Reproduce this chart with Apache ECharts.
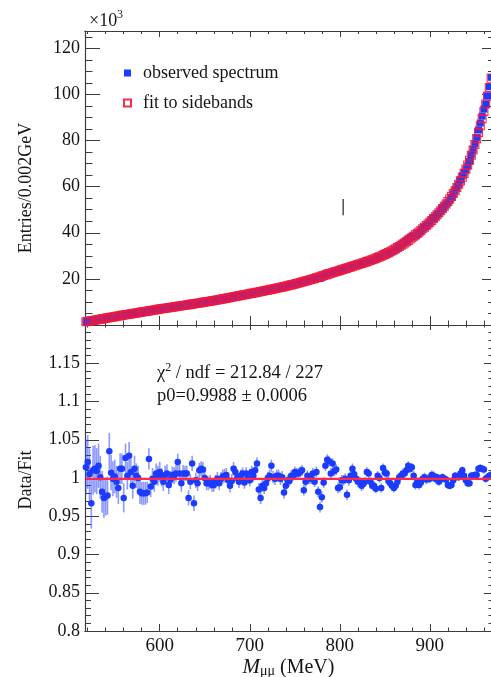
<!DOCTYPE html>
<html><head><meta charset="utf-8">
<script src="https://cdn.jsdelivr.net/npm/echarts@6/dist/echarts.min.js"></script>
<style>html,body{margin:0;padding:0;background:#fff}#c{width:491px;height:677px}</style>
</head><body><div id="c"></div>
<script>
// ---- data ----
const binStart = 518;          // MeV, first bin centre
const binWidth = 2;            // MeV (0.002 GeV)
// fit to sidebands, entries per bin in units of 10^3
const fitValues = [
1.40,1.54,1.68,1.82,1.96,2.10,2.24,2.38,2.52,2.66,
2.80,2.94,3.08,3.22,3.36,3.50,3.63,3.77,3.90,4.04,
4.17,4.30,4.43,4.56,4.70,4.83,4.96,5.09,5.22,5.35,
5.48,5.61,5.74,5.87,6.00,6.13,6.26,6.39,6.52,6.65,
6.78,6.90,7.02,7.14,7.26,7.38,7.50,7.62,7.74,7.86,
7.98,8.10,8.22,8.34,8.46,8.58,8.70,8.82,8.94,9.06,
9.18,9.30,9.42,9.55,9.68,9.81,9.94,10.07,10.20,10.33,
10.46,10.60,10.74,10.88,11.02,11.17,11.32,11.47,11.62,11.77,
11.92,12.07,12.22,12.37,12.52,12.67,12.82,12.97,13.12,13.27,
13.42,13.57,13.72,13.87,14.02,14.17,14.33,14.49,14.65,14.81,
14.97,15.13,15.29,15.45,15.62,15.79,15.96,16.13,16.30,16.47,
16.64,16.82,17.01,17.20,17.40,17.60,17.80,18.00,18.20,18.41,
18.62,18.83,19.04,19.26,19.48,19.70,19.95,20.20,20.45,20.70,
20.95,21.20,21.45,21.70,21.95,22.20,22.45,22.70,22.95,23.20,
23.45,23.70,23.95,24.20,24.45,24.70,24.95,25.20,25.45,25.70,
25.95,26.20,26.45,26.70,26.96,27.22,27.48,27.76,28.04,28.33,
28.62,28.92,29.24,29.57,29.91,30.26,30.62,31.00,31.39,31.80,
32.22,32.66,33.11,33.58,34.06,34.56,35.07,35.60,36.14,36.70,
37.27,37.86,38.46,39.08,39.71,40.36,41.02,41.70,42.40,43.11,
43.84,44.59,45.36,46.15,46.96,47.80,48.67,49.57,50.50,51.47,
52.48,53.53,54.63,55.78,56.99,58.26,59.60,61.01,62.50,64.08,
65.76,67.54,69.43,71.44,73.58,75.85,78.26,80.82,83.54,86.43,
89.50,92.60,95.80,99.20,103.00,107.00
];
// observed / fit ratio per bin
const ratioValues = [
1.014,1.021,1.005,0.967,1.010,1.012,1.009,1.016,1.001,0.982,
0.974,0.976,0.977,1.035,1.007,0.999,1.002,0.995,0.987,1.012,
1.012,0.974,1.026,1.003,1.029,1.008,0.990,1.012,1.003,1.000,
0.982,0.980,0.980,0.980,0.981,1.025,0.989,0.999,0.995,1.006,
1.003,1.008,1.001,0.995,1.004,1.006,0.991,0.998,1.004,1.003,
1.006,1.021,1.006,0.993,1.006,1.006,1.006,0.974,0.995,1.019,
0.967,0.997,0.993,1.010,1.012,1.011,1.000,0.993,0.993,0.995,
0.991,0.991,0.995,0.999,0.993,0.999,1.002,1.003,1.004,0.997,
0.990,0.996,1.012,1.008,1.000,0.995,1.003,1.006,0.994,1.006,
1.000,0.997,1.008,1.003,1.010,1.019,0.985,0.974,0.990,0.987,
0.993,1.000,1.003,1.016,1.001,0.999,1.003,1.003,0.999,1.001,
0.981,0.990,0.997,0.996,1.003,1.003,1.008,1.006,1.006,1.008,
1.010,0.984,0.995,1.003,0.999,0.999,1.006,0.995,1.008,0.982,
0.962,0.975,0.994,1.016,1.024,1.022,1.006,1.019,1.009,1.011,
0.987,0.988,0.997,0.997,0.999,0.978,0.997,1.003,1.012,1.005,
0.999,0.995,0.995,0.990,0.992,0.995,1.008,1.006,0.995,0.990,
0.990,0.986,1.003,1.000,0.987,1.013,1.007,1.006,0.996,0.993,
0.990,0.987,0.990,0.995,1.001,1.003,1.006,1.006,1.010,1.016,
1.012,1.014,1.003,0.991,0.995,0.991,0.994,0.999,1.001,0.998,
0.999,0.999,1.004,1.003,0.999,1.001,0.995,0.998,1.001,0.999,
0.998,0.991,0.990,0.991,0.997,1.003,1.002,1.001,1.006,1.010,
1.003,0.997,0.993,0.993,1.003,1.003,1.004,1.004,1.012,1.013,
1.012,1.011,0.999,1.001,1.003,1.004
];
// ratio errors, in units of 0.001
const ratioErrors = [
36,35,34,33,32,31,30,29,28,27,
26,25,25,24,23,23,22,21,21,20,
20,19,19,18,18,17,17,17,16,16,
16,15,15,15,14,14,14,14,13,13,
13,13,12,12,12,12,12,11,11,11,
11,11,11,11,11,10,10,10,10,10,
10,10,10,10,10,10,9,9,9,9,
9,9,9,9,9,9,9,9,9,9,
9,9,9,8,8,8,8,8,8,8,
8,8,8,8,8,8,8,8,8,8,
8,8,8,8,8,8,8,8,8,8,
8,8,7,7,7,7,7,7,7,7,
7,7,7,7,7,7,7,7,7,7,
7,7,7,7,7,7,7,7,7,7,
7,7,7,7,7,7,7,7,7,7,
7,7,7,7,7,6,6,6,6,6,
6,6,6,6,6,6,6,6,6,6,
6,6,6,6,6,6,6,6,6,6,
6,6,6,6,6,6,6,6,6,6,
6,6,6,6,6,5,5,5,5,5,
5,5,5,5,5,5,5,5,5,5,
5,5,5,5,5,5,5,5,5,5,
5,5,5,5,5,5
];
const p0 = 0.9988;
const xMajorTicks = [600,700,800,900];
const xMinorTicks = [520,540,560,580,620,640,660,680,720,740,760,780,820,840,860,880,920,940,960];
const strayMark = [[803.7, 47.6, 54.6]];

// ---- chart ----
const FONT = '"Liberation Serif","DejaVu Serif",serif';
const TXT = '#151515';
const AX = '#3c3c3c';
const BLUE = '#1b3bff';
const RED = 'rgba(240,24,62,0.9)';
const X_MIN = 517, X_MAX = 969;

const xs = fitValues.map((_, i) => binStart + binWidth * i);
const obsData = xs.map((x, i) => [x, fitValues[i] * ratioValues[i]]);
const fitData = xs.map((x, i) => [x, fitValues[i]]);
const ratioData = xs.map((x, i) => [x, ratioValues[i]]);
const errData = xs.map((x, i) => [x, ratioValues[i] - ratioErrors[i] / 1000, ratioValues[i] + ratioErrors[i] / 1000]);
const fitLine = [[xs[0], p0], [xs[xs.length - 1], p0]];

function xAxisDef(grid, position, ticks, len, extra) {
  return Object.assign({
    type: 'value', gridIndex: grid, position: position, min: X_MIN, max: X_MAX,
    axisLine: { show: true, onZero: false, lineStyle: { color: AX, width: 1.2 } },
    axisTick: { show: true, inside: true, length: len, customValues: ticks, lineStyle: { color: AX, width: 1 } },
    axisLabel: { show: false }, splitLine: { show: false }, minorTick: { show: false }
  }, extra || {});
}
function yAxisDef(grid, position, min, max, interval, split, majLen, minLen, label) {
  return {
    type: 'value', gridIndex: grid, position: position, min: min, max: max, interval: interval,
    axisLine: { show: true, onZero: false, lineStyle: { color: AX, width: 1.2 } },
    axisTick: { show: true, inside: true, length: majLen, lineStyle: { color: AX, width: 1 } },
    minorTick: { show: true, splitNumber: split, length: minLen, lineStyle: { color: AX, width: 1 } },
    axisLabel: label || { show: false },
    splitLine: { show: false }, minorSplitLine: { show: false }
  };
}
const labelBase = { show: true, fontFamily: FONT, fontSize: 18, color: TXT, margin: 5 };

const option = {
  animation: false,
  backgroundColor: '#fff',
  grid: [
    { left: 85, width: 407, top: 31, height: 294, containLabel: false, outerBoundsMode: 'none' },
    { left: 85, width: 407, top: 325, height: 306, containLabel: false, outerBoundsMode: 'none' }
  ],
  xAxis: [
    xAxisDef(0, 'bottom', xMajorTicks, 9),
    xAxisDef(0, 'bottom', xMinorTicks, 4.5),
    xAxisDef(0, 'top', xMajorTicks, 6),
    xAxisDef(0, 'top', xMinorTicks, 3),
    xAxisDef(1, 'bottom', xMajorTicks, 7, {
      axisLabel: { show: true, customValues: xMajorTicks, margin: 6, fontFamily: FONT, fontSize: 19, color: TXT },
      name: '{i|M}{s|μμ}{n| (MeV)}', nameLocation: 'middle', nameGap: 17,
      nameTextStyle: {
        fontFamily: FONT, fontSize: 20, color: TXT,
        rich: {
          i: { fontFamily: FONT, fontSize: 21, fontStyle: 'italic', color: TXT, lineHeight: 22 },
          s: { fontFamily: FONT, fontSize: 14, color: TXT, verticalAlign: 'bottom', lineHeight: 14 },
          n: { fontFamily: FONT, fontSize: 20, color: TXT, lineHeight: 22 }
        }
      }
    }),
    xAxisDef(1, 'bottom', xMinorTicks, 3.5),
    xAxisDef(1, 'top', xMajorTicks, 5),
    xAxisDef(1, 'top', xMinorTicks, 2.5)
  ],
  yAxis: [
    yAxisDef(0, 'left', 0, 127.5, 20, 4, 15, 7.5, Object.assign({}, labelBase, {
      formatter: v => (v > 0 && Math.abs(v % 20) < 1e-6) ? String(v) : ''
    })),
    yAxisDef(0, 'right', 0, 127.5, 20, 4, 10, 4),
    yAxisDef(1, 'left', 0.8, 1.2, 0.05, 5, 14, 6, Object.assign({}, labelBase, {
      formatter: v => v > 1.19 ? '' : String(+(+v).toFixed(2))
    })),
    yAxisDef(1, 'right', 0.8, 1.2, 0.05, 5, 8, 3.5)
  ],
  legend: {
    data: ['observed spectrum', 'fit to sidebands'],
    orient: 'vertical', left: 123, top: 64, padding: 0,
    itemWidth: 7, itemHeight: 7, itemGap: 12,
    icon: 'rect',
    textStyle: { fontFamily: FONT, fontSize: 18, color: TXT, lineHeight: 18, padding: [0, 0, 0, 7] }
  },
  series: [
    {
      name: 'observed spectrum', type: 'scatter', xAxisIndex: 0, yAxisIndex: 0,
      data: obsData, symbol: 'rect', symbolSize: 7,
      itemStyle: { color: BLUE, opacity: 1 }, z: 2, silent: true
    },
    {
      name: 'fit to sidebands', type: 'scatter', xAxisIndex: 0, yAxisIndex: 0,
      data: fitData, symbol: 'rect', symbolSize: 8,
      itemStyle: { color: 'rgba(255,255,255,0)', borderColor: RED, borderWidth: 1.05, opacity: 1 }, z: 3, silent: true
    },
    {
      type: 'custom', xAxisIndex: 0, yAxisIndex: 0, data: strayMark, silent: true, z: 4,
      encode: { x: 0, y: [1, 2] },
      renderItem: (params, api) => {
        const a = api.coord([api.value(0), api.value(1)]);
        const b = api.coord([api.value(0), api.value(2)]);
        return { type: 'line', shape: { x1: a[0], y1: a[1], x2: b[0], y2: b[1] }, style: { stroke: '#222', lineWidth: 1.2 } };
      }
    },
    {
      type: 'custom', xAxisIndex: 4, yAxisIndex: 2, data: errData, silent: true, z: 2,
      encode: { x: 0, y: [1, 2] },
      renderItem: (params, api) => {
        const a = api.coord([api.value(0), api.value(1)]);
        const b = api.coord([api.value(0), api.value(2)]);
        return { type: 'line', shape: { x1: a[0], y1: a[1], x2: b[0], y2: b[1] }, style: { stroke: 'rgba(45,70,255,0.55)', lineWidth: 1.6 } };
      }
    },
    {
      type: 'scatter', xAxisIndex: 4, yAxisIndex: 2, data: ratioData,
      symbol: 'circle', symbolSize: 6.5, itemStyle: { color: BLUE, opacity: 1 }, z: 3, silent: true
    },
    {
      type: 'line', xAxisIndex: 4, yAxisIndex: 2, data: fitLine, symbol: 'none',
      lineStyle: { color: '#ff2a4a', width: 2.2 }, z: 5, silent: true
    }
  ],
  graphic: [
    { type: 'text', x: 89, y: 12, style: { text: '×10', fontFamily: FONT, fontSize: 18, fill: TXT } },
    { type: 'text', x: 117, y: 9, style: { text: '3', fontFamily: FONT, fontSize: 12, fill: TXT } },
    {
      type: 'text', x: 157, y: 362,
      style: {
        text: '{n|χ}{s|2}{n| / ndf = 212.84 / 227}', fill: TXT,
        rich: {
          n: { fontFamily: FONT, fontSize: 18.5, fill: TXT, lineHeight: 22 },
          s: { fontFamily: FONT, fontSize: 12, fill: TXT, verticalAlign: 'top', lineHeight: 12 }
        }
      }
    },
    { type: 'text', x: 157, y: 387, style: { text: 'p0=0.9988 ± 0.0006', fontFamily: FONT, fontSize: 18.5, fill: TXT } },
    {
      type: 'text', x: 26, y: 188, rotation: Math.PI / 2,
      style: { text: 'Entries/0.002GeV', fontFamily: FONT, fontSize: 18, fill: TXT, align: 'center', verticalAlign: 'middle', textAlign: 'center', textVerticalAlign: 'middle' }
    },
    {
      type: 'text', x: 26, y: 480, rotation: Math.PI / 2,
      style: { text: 'Data/Fit', fontFamily: FONT, fontSize: 18, fill: TXT, align: 'center', verticalAlign: 'middle', textAlign: 'center', textVerticalAlign: 'middle' }
    }
  ]
};
const chart = echarts.init(document.getElementById('c'), null, { renderer: 'canvas' });
chart.setOption(option);
</script>
</body></html>
